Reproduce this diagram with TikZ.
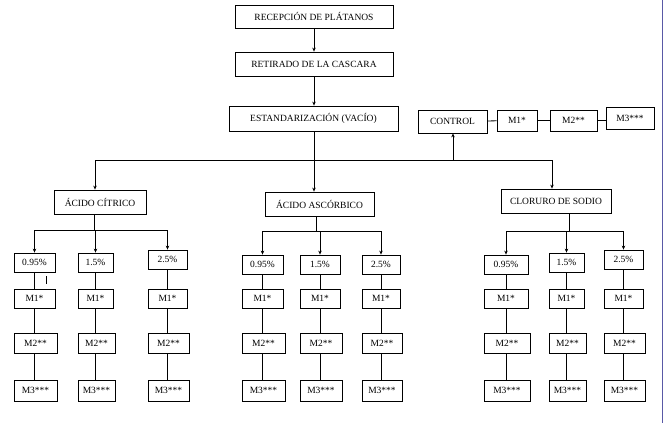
\documentclass[tikz,border=0pt]{standalone}
\usepackage{fontspec}
\setmainfont{Liberation Serif}
\usetikzlibrary{arrows.meta}
\begin{document}
\begin{tikzpicture}[x=1pt,y=-1pt,
  box/.style={draw,line width=0.8pt,inner sep=0pt,font=\fontsize{9.5}{10}\selectfont\rmfamily},
  ln/.style={line width=0.8pt},
  ar/.style={line width=0.8pt,-{Stealth[length=4pt,width=3.5pt]}}]
\useasboundingbox (0,0) rectangle (665,423);
\draw[line width=1pt,color=blue!30!gray] (662,0) -- (662,423);
\newcommand{\bx}[6]{\node[box,minimum width={#4-#2},minimum height={#5-#3}] (#1) at ({(#2+#4)/2},{(#3+#5)/2}) {#6};}
\bx{rec}{235}{5}{393}{28}{RECEPCIÓN DE PLÁTANOS}
\bx{ret}{235}{52}{393}{76}{RETIRADO DE LA CASCARA}
\bx{est}{229}{106}{398}{131}{ESTANDARIZACIÓN (VACÍO)}
\bx{ctl}{418}{110}{487}{133}{CONTROL}
\bx{cm1}{497}{110}{537}{131}{M1*}
\bx{cm2}{550}{110}{597}{131}{M2**}
\bx{cm3}{606}{107}{654}{129}{M3***}
\coordinate (hl) at (95,160); \coordinate (hr) at (552,160); \coordinate (hc) at (453,160); \coordinate (hm) at (314,160);
\draw[ar] (rec.south-|hm) -- (ret.north-|hm);
\draw[ar] (ret.south-|hm) -- (est.north-|hm);
\draw[ln] (ctl) -- (cm1); \draw[ln] (cm1) -- (cm2); \draw[ln] (cm2.east) -- (cm3.west|-cm2.east);
\draw[ln] (est.south-|hm) -- (hm);
\draw[ln] (hl) -- (hr);
\draw[ar] (hc) -- (ctl.south-|hc);
\bx{cit}{54}{190}{146}{214}{ÁCIDO CÍTRICO}
\bx{asc}{265}{192}{374}{216}{ÁCIDO ASCÓRBICO}
\bx{clo}{501}{189}{611}{213}{CLORURO DE SODIO}
\draw[ar] (hl) -- (hl|-cit.north);
\draw[ar] (hm) -- (hm|-asc.north);
\draw[ar] (hr) -- (hr|-clo.north);
\foreach \g/\pn/\sx/\by/\ca/\cb/\cc/\da/\db/\dc/\pa/\pb/\pc in
 {a/cit/94/230/14/78/148/55/113/187/253/253/250,
  b/asc/316/231/242/300/362/283/340/400/255/255/255,
  c/clo/569/231/484/549/604/528/584/643/255/253/250}{
  \draw[ln] (\pn.south-|\sx,0) -- (\sx,\by);
  \draw[ln] ({(\ca+\da)/2},\by) -- ({(\cc+\dc)/2},\by);
  \foreach \i/\x/\X/\pt/\lab in {1/\ca/\da/\pa/0.95\%,2/\cb/\db/\pb/1.5\%,3/\cc/\dc/\pc/2.5\%}{
    \bx{\g\i p}{\x}{\pt}{\X}{\pt+19}{\lab}
    \bx{\g\i m1}{\x}{289}{\X}{308}{M1*}
    \bx{\g\i m2}{\x}{333}{\X+2}{353}{M2**}
    \bx{\g\i m3}{\x-1}{380}{\X+3}{401}{M3***}
    \draw[ar] ({(\x+\X)/2},\by) -- (\g\i p.north);
    \draw[ln] (\g\i p.south) -- (\g\i p.south|-\g\i m1.north);
    \draw[ln] (\g\i m1.south) -- (\g\i m1.south|-\g\i m2.north);
    \draw[ln] (\g\i m1.south|-\g\i m2.south) -- (\g\i m1.south|-\g\i m3.north);
  }
}
\draw[line width=0.6pt] (46,276) -- (46,284);
\end{tikzpicture}
\end{document}
